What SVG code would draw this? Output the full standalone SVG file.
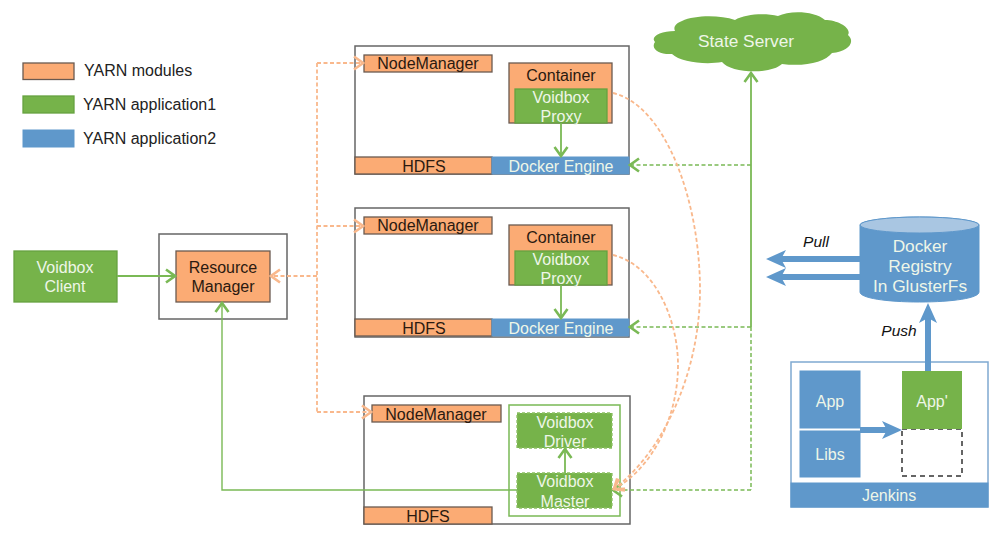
<svg xmlns="http://www.w3.org/2000/svg" width="1000" height="535" viewBox="0 0 1000 535">
<style>
text{font-family:"Liberation Sans",Arial,sans-serif;font-size:16px;text-anchor:middle}
.k{fill:#2b1a10}.w{fill:#eef6e8}.i{font-style:italic;fill:#111;font-size:15.500px}.l{text-anchor:start;fill:#222;font-size:16px}.big{font-size:17.300px}
.o{fill:#fbab74;stroke:#6a5a50;stroke-width:1.3}
.g{fill:#76b34a;stroke:#66a23f;stroke-width:1.3}
.gd{fill:#76b34a;stroke:#8cc063;stroke-width:1.3;stroke-dasharray:3 2}
.b{fill:#5f98cb;stroke:#5f98cb}
.f{fill:#fff;stroke:#666;stroke-width:1.5}
.cg{fill:none;stroke:#7ab955;stroke-width:1.8}
.cgt{fill:none;stroke:#7ab955;stroke-width:1.4}
.cgd{fill:none;stroke:#7ab955;stroke-width:1.5;stroke-dasharray:4 2.5}
.co{fill:none;stroke:#f9b88c;stroke-width:1.8;stroke-dasharray:4 2.5}
.cb{fill:none;stroke:#5f98cb;stroke-width:6}
</style>
<defs>
<marker id="ag" markerUnits="userSpaceOnUse" markerWidth="14" markerHeight="16" refX="12" refY="8" orient="auto"><path d="M3 1.500L12 8L3 14.500" fill="none" stroke="#7ab955" stroke-width="2.600"/></marker>
<marker id="ao" markerUnits="userSpaceOnUse" markerWidth="14" markerHeight="16" refX="12" refY="8" orient="auto"><path d="M3 1.500L12 8L3 14.500" fill="none" stroke="#f9b88c" stroke-width="2.600"/></marker>
<marker id="ab" markerUnits="userSpaceOnUse" markerWidth="22" markerHeight="24" refX="12" refY="12" orient="auto"><path d="M0 3L20 12L0 21L5 12Z" fill="#5f98cb"/></marker>
</defs>

<g id="legend">
<rect class="o" x="23" y="63" width="51" height="16.500"/><text class="l" x="84" y="76">YARN modules</text>
<rect class="g" x="23" y="96" width="51" height="17"/><text class="l" x="83" y="110">YARN application1</text>
<rect class="b" x="23" y="130" width="51" height="17"/><text class="l" x="83" y="144">YARN application2</text>
</g>

<g id="client"><rect class="g" x="14" y="251" width="103" height="51"/><text class="w" x="65" y="273">Voidbox</text><text class="w" x="65" y="292">Client</text></g>
<g id="resource-manager"><rect class="f" x="159" y="234" width="128" height="85"/><rect class="o" x="176" y="251" width="94" height="51"/><text class="k" x="223" y="273">Resource</text><text class="k" x="223" y="292">Manager</text></g>

<g id="node1">
<rect class="f" x="355" y="46" width="274" height="128"/>
<rect class="o" x="364" y="55" width="128" height="17"/><text class="k" x="428" y="69">NodeManager</text>
<rect class="o" x="509" y="63" width="103" height="60"/><text class="k" x="561" y="81">Container</text>
<rect class="g" x="515" y="89" width="92" height="34"/><text class="w" x="561" y="103">Voidbox</text><text class="w" x="561" y="122">Proxy</text>
<rect class="o" x="355" y="157" width="137" height="17"/><text class="k" x="424" y="172">HDFS</text>
<rect class="b" x="492" y="157" width="137" height="17"/><text class="w" x="561" y="172">Docker Engine</text>
</g>
<g id="node2">
<rect class="f" x="355" y="208" width="274" height="129"/>
<rect class="o" x="364" y="217" width="128" height="17"/><text class="k" x="428" y="231">NodeManager</text>
<rect class="o" x="509" y="225" width="103" height="60"/><text class="k" x="561" y="243">Container</text>
<rect class="g" x="515" y="251" width="92" height="34"/><text class="w" x="561" y="265">Voidbox</text><text class="w" x="561" y="284">Proxy</text>
<rect class="o" x="355" y="319" width="137" height="17"/><text class="k" x="424" y="334">HDFS</text>
<rect class="b" x="492" y="319" width="137" height="17"/><text class="w" x="561" y="334">Docker Engine</text>
</g>
<g id="node3">
<rect class="f" x="364" y="396" width="266" height="128"/>
<rect class="o" x="372" y="405" width="129" height="17"/><text class="k" x="436" y="420">NodeManager</text>
<rect x="509" y="405" width="111" height="111" fill="#fff" stroke="#7ab955" stroke-width="1.500"/>
<rect class="gd" x="517" y="413" width="95" height="35"/><text class="w" x="565" y="428">Voidbox</text><text class="w" x="565" y="447">Driver</text>
<rect class="gd" x="517" y="473" width="95" height="35"/><text class="w" x="565" y="487">Voidbox</text><text class="w" x="565" y="507">Master</text>
<rect class="o" x="364" y="507" width="128" height="17"/><text class="k" x="428" y="522">HDFS</text>
</g>

<g id="state-server">
<path fill="#76b34a" d="M675 31C660 31 650 37 655 42C650 49 660 55 672 54C680 62 705 65 722 62C730 73 770 75 782 64C805 67 825 62 832 53C848 52 856 42 848 35C852 28 838 20 825 20C815 11 790 10 778 16C765 13 745 14 735 20C720 15 695 15 682 21C676 23 673 27 675 31Z"/>
<text class="w big" x="746" y="47">State Server</text>
</g>

<g id="registry">
<path class="b" d="M860 225C860 221 886 217 919.500 217C953 217 979 221 979 225V292C979 298 953 302 919.500 302C886 302 860 298 860 292Z"/>
<ellipse cx="919.500" cy="225" rx="59.500" ry="8" fill="#a9c6e2" stroke="#5f98cb" stroke-width="1"/>
<text class="w big" x="920" y="252">Docker</text><text class="w big" x="920" y="272">Registry</text><text class="w big" x="920" y="292">In GlusterFs</text>
</g>

<g id="jenkins">
<rect x="791" y="362" width="197" height="145" fill="#fff" stroke="#7fa9d1" stroke-width="1.500"/>
<rect class="b" x="800" y="371" width="60" height="57"/><text class="w" x="830" y="407">App</text>
<rect class="b" x="800" y="431" width="60" height="46"/><text class="w" x="830" y="460">Libs</text>
<rect x="902" y="429" width="60" height="47" fill="#fff" stroke="#333" stroke-width="1.500" stroke-dasharray="5 4"/>
<rect x="902" y="371" width="60" height="58" fill="#76b34a"/><text class="w" x="932" y="407">App'</text>
<rect class="b" x="791" y="483" width="197" height="24"/><text class="w" x="889" y="501">Jenkins</text>
</g>

<g id="connectors">
<path class="cg" d="M117 276H175" marker-end="url(#ag)"/>
<path class="co" d="M317 276H271" marker-end="url(#ao)"/>
<path class="co" d="M317 63V412"/>
<path class="co" d="M317 63H363" marker-end="url(#ao)"/>
<path class="co" d="M317 226H363" marker-end="url(#ao)"/>
<path class="co" d="M317 412H371" marker-end="url(#ao)"/>
<path class="cg" d="M561 123V156" marker-end="url(#ag)"/>
<path class="cg" d="M561 285V318" marker-end="url(#ag)"/>
<path class="cg" d="M565 473V449" marker-end="url(#ag)"/>
<path class="cgt" d="M517 490H222V303" marker-end="url(#ag)"/>
<path class="cg" d="M751 327V73" stroke-width="2.200" marker-end="url(#ag)"/>
<path class="cgd" d="M751 327V490"/>
<path class="cgd" d="M751 165H630" marker-end="url(#ag)"/>
<path class="cgd" d="M751 327H630" marker-end="url(#ag)"/>
<path class="cgd" d="M751 490H613" marker-end="url(#ag)"/>
<path class="co" d="M613 93C665 105 700 200 700 290C700 370 665 450 614 489" marker-end="url(#ao)"/>
<path class="co" d="M613 255C655 265 678 320 678 365C678 420 650 470 614 489" marker-end="url(#ao)"/>
<path class="cb" d="M860 259H774" marker-end="url(#ab)"/>
<path class="cb" d="M860 277H774" marker-end="url(#ab)"/>
<path class="cb" d="M928 371V311" marker-end="url(#ab)"/>
<path class="cb" d="M860 430H894" marker-end="url(#ab)"/>
</g>

<g id="labels"><text class="i" x="816" y="247">Pull</text><text class="i" x="899" y="336">Push</text></g>
</svg>
